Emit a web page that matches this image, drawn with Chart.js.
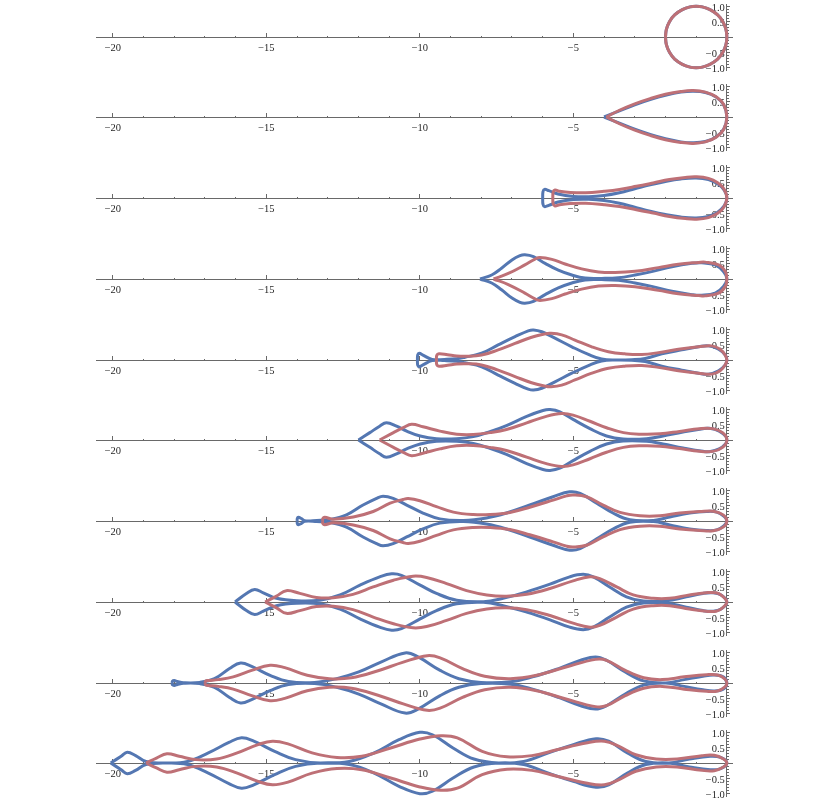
<!DOCTYPE html>
<html>
<head>
<meta charset="utf-8">
<script src="https://cdn.jsdelivr.net/npm/chart.js@4.4.1/dist/chart.umd.min.js"></script>
<style>
  html, body { margin: 0; padding: 0; background: #fff; }
  body { width: 830px; height: 801px; position: relative; overflow: hidden; }
  canvas { position: absolute; }
</style>
</head>
<body>
<script>
// Upper halves of the closed curves as [x, y], left end -> x = 0.
// Each curve is symmetric about the x axis, so the lower half is the mirror.
var blue1 = [[-2, 0], [-1.97, 0.25], [-1.87, 0.5], [-1.7, 0.72], [-1.45, 0.89], [-1.2, 0.98], [-1, 1], [-0.8, 0.98], [-0.55, 0.89], [-0.3, 0.72], [-0.13, 0.5], [-0.03, 0.25], [0, 0]];
var red1 = [[-2, 0], [-1.97, 0.25], [-1.87, 0.5], [-1.7, 0.72], [-1.45, 0.89], [-1.2, 0.98], [-1, 1], [-0.8, 0.98], [-0.55, 0.89], [-0.3, 0.72], [-0.13, 0.5], [-0.03, 0.25], [0, 0]];

var blue2 = [[-4.0, 0], [-3.5, 0.2], [-3, 0.4], [-2.5, 0.57], [-2, 0.71], [-1.5, 0.81], [-1.1, 0.84], [-0.7, 0.8], [-0.35, 0.65], [-0.1, 0.39], [0, 0]];
var red2 = [[-3.93, 0], [-3.5, 0.22], [-3, 0.43], [-2.5, 0.6], [-2, 0.74], [-1.5, 0.83], [-1.1, 0.86], [-0.7, 0.81], [-0.35, 0.66], [-0.1, 0.4], [0, 0]];

var blue3 = [[-6.0, 0], [-5.99, 0.2], [-5.94, 0.28], [-5.8, 0.24], [-5.5, 0.13], [-5.0, 0.05], [-4.5, 0.04], [-4.0, 0.08], [-3.5, 0.17], [-3.0, 0.3], [-2.5, 0.43], [-2.0, 0.54], [-1.5, 0.62], [-1.0, 0.65], [-0.6, 0.6], [-0.3, 0.46], [-0.08, 0.25], [0, 0]];
var red3 = [[-5.67, 0], [-5.66, 0.18], [-5.6, 0.26], [-5.45, 0.22], [-5.1, 0.18], [-4.6, 0.17], [-4.0, 0.22], [-3.5, 0.28], [-2.95, 0.38], [-2.4, 0.49], [-1.87, 0.6], [-1.35, 0.67], [-1.0, 0.69], [-0.6, 0.64], [-0.3, 0.5], [-0.1, 0.3], [0, 0]];

var blue4 = [[-8.04, 0], [-7.66, 0.13], [-7.34, 0.35], [-7.0, 0.62], [-6.74, 0.76], [-6.58, 0.79], [-6.3, 0.73], [-5.92, 0.51], [-5.49, 0.29], [-5.05, 0.13], [-4.62, 0.03], [-4.08, 0.02], [-3.53, 0.04], [-2.99, 0.13], [-2.45, 0.24], [-1.79, 0.4], [-1.14, 0.51], [-0.82, 0.53], [-0.38, 0.46], [-0.11, 0.24], [0, 0]];
var red4 = [[-7.6, 0], [-7.12, 0.18], [-6.58, 0.46], [-6.25, 0.65], [-6.09, 0.7], [-5.7, 0.64], [-5.27, 0.49], [-4.73, 0.33], [-4.18, 0.23], [-3.64, 0.21], [-2.99, 0.25], [-2.23, 0.37], [-1.58, 0.48], [-0.92, 0.54], [-0.71, 0.55], [-0.27, 0.46], [-0.05, 0.24], [0, 0]];

var blue5 = [[-10.08, 0], [-10.07, 0.17], [-10.02, 0.22], [-9.9, 0.16], [-9.6, 0.02], [-9.2, 0.02], [-8.8, 0.04], [-8.53, 0.09], [-7.99, 0.22], [-7.45, 0.49], [-6.9, 0.76], [-6.47, 0.95], [-6.3, 0.98], [-6.03, 0.92], [-5.6, 0.71], [-5.05, 0.43], [-4.51, 0.18], [-4.08, 0.03], [-3.6, 0.0], [-3.1, 0.01], [-2.66, 0.05], [-2.12, 0.2], [-1.47, 0.33], [-0.92, 0.43], [-0.6, 0.46], [-0.27, 0.35], [-0.05, 0.16], [0, 0]];
var red5 = [[-9.46, 0], [-9.45, 0.15], [-9.38, 0.2], [-9.1, 0.17], [-8.8, 0.13], [-8.5, 0.12], [-7.99, 0.16], [-7.45, 0.33], [-6.9, 0.54], [-6.36, 0.74], [-5.92, 0.85], [-5.76, 0.87], [-5.38, 0.82], [-4.95, 0.65], [-4.4, 0.43], [-3.86, 0.27], [-3.32, 0.2], [-2.77, 0.18], [-2.23, 0.24], [-1.58, 0.35], [-0.92, 0.43], [-0.49, 0.46], [-0.22, 0.35], [-0.05, 0.15], [0, 0]];

var blue6 = [[-12.0, 0], [-11.63, 0.24], [-11.31, 0.45], [-11.09, 0.56], [-10.76, 0.45], [-10.43, 0.29], [-9.99, 0.13], [-9.46, 0.04], [-8.8, 0.04], [-8.26, 0.11], [-7.72, 0.27], [-7.18, 0.47], [-6.52, 0.77], [-5.99, 0.96], [-5.76, 0.99], [-5.44, 0.92], [-5.01, 0.67], [-4.46, 0.37], [-3.92, 0.13], [-3.38, 0.03], [-2.61, 0.04], [-2.08, 0.13], [-1.43, 0.26], [-0.78, 0.37], [-0.57, 0.38], [-0.25, 0.29], [-0.03, 0.11], [0, 0]];
var red6 = [[-11.31, 0], [-10.86, 0.24], [-10.54, 0.4], [-10.27, 0.51], [-9.9, 0.43], [-9.35, 0.29], [-8.8, 0.19], [-8.26, 0.18], [-7.72, 0.24], [-7.18, 0.34], [-6.52, 0.56], [-5.88, 0.77], [-5.38, 0.86], [-5.01, 0.81], [-4.46, 0.61], [-3.92, 0.4], [-3.37, 0.24], [-2.83, 0.19], [-2.18, 0.2], [-1.54, 0.28], [-0.89, 0.37], [-0.46, 0.37], [-0.14, 0.24], [0, 0]];

var blue7 = [[-14.0, 0], [-13.99, 0.09], [-13.96, 0.12], [-13.86, 0.08], [-13.75, 0.01], [-13.36, 0.02], [-12.93, 0.05], [-12.39, 0.2], [-11.85, 0.52], [-11.41, 0.74], [-11.2, 0.81], [-10.87, 0.74], [-10.43, 0.52], [-9.9, 0.26], [-9.35, 0.07], [-8.58, 0.02], [-7.83, 0.1], [-7.18, 0.26], [-6.42, 0.52], [-5.66, 0.79], [-5.12, 0.95], [-4.78, 0.9], [-4.24, 0.58], [-3.71, 0.26], [-3.16, 0.04], [-2.39, 0.02], [-1.86, 0.13], [-1.21, 0.26], [-0.67, 0.31], [-0.33, 0.29], [-0.09, 0.15], [0, 0]];
var red7 = [[-13.17, 0], [-13.16, 0.08], [-13.1, 0.12], [-12.82, 0.06], [-12.17, 0.13], [-11.52, 0.31], [-10.97, 0.58], [-10.55, 0.7], [-10.38, 0.73], [-10.0, 0.66], [-9.46, 0.47], [-8.91, 0.29], [-8.26, 0.21], [-7.72, 0.21], [-7.07, 0.28], [-6.42, 0.45], [-5.66, 0.68], [-5.22, 0.82], [-5.01, 0.85], [-4.57, 0.79], [-4.03, 0.52], [-3.48, 0.28], [-2.83, 0.17], [-2.18, 0.17], [-1.53, 0.26], [-0.88, 0.31], [-0.44, 0.32], [-0.12, 0.2], [0, 0]];

var blue8 = [[-16.02, 0], [-15.65, 0.28], [-15.38, 0.41], [-15.1, 0.3], [-14.67, 0.12], [-14.01, 0.04], [-13.26, 0.06], [-12.6, 0.23], [-11.95, 0.55], [-11.31, 0.82], [-10.92, 0.92], [-10.6, 0.87], [-9.99, 0.55], [-9.46, 0.28], [-8.8, 0.06], [-7.93, 0.01], [-7.29, 0.12], [-6.52, 0.33], [-5.76, 0.58], [-5.12, 0.82], [-4.68, 0.9], [-4.35, 0.82], [-3.82, 0.49], [-3.27, 0.17], [-2.72, 0.03], [-1.97, 0.04], [-1.32, 0.17], [-0.78, 0.28], [-0.46, 0.3], [-0.19, 0.23], [0, 0]];
var red8 = [[-15.04, 0], [-14.67, 0.19], [-14.35, 0.37], [-13.91, 0.28], [-13.37, 0.15], [-12.82, 0.14], [-12.18, 0.25], [-11.52, 0.49], [-10.86, 0.71], [-10.22, 0.84], [-9.78, 0.8], [-9.13, 0.6], [-8.48, 0.37], [-7.82, 0.23], [-7.18, 0.19], [-6.52, 0.25], [-5.76, 0.44], [-5.01, 0.69], [-4.46, 0.82], [-4.14, 0.76], [-3.59, 0.49], [-3.05, 0.23], [-2.4, 0.12], [-1.86, 0.12], [-1.22, 0.23], [-0.68, 0.3], [-0.35, 0.3], [-0.14, 0.19], [0, 0]];

var blue9 = [[-18.07, 0], [-18.06, 0.06], [-18.0, 0.08], [-17.9, 0.05], [-17.7, 0.01], [-17.17, 0.02], [-16.69, 0.14], [-16.2, 0.47], [-15.84, 0.65], [-15.48, 0.54], [-14.88, 0.25], [-14.28, 0.05], [-13.43, 0.02], [-12.71, 0.14], [-11.99, 0.36], [-11.27, 0.68], [-10.48, 0.98], [-10.06, 0.85], [-9.34, 0.41], [-8.73, 0.14], [-8.01, 0.02], [-7.05, 0.04], [-6.33, 0.2], [-5.48, 0.47], [-4.76, 0.74], [-4.28, 0.85], [-3.92, 0.74], [-3.31, 0.36], [-2.71, 0.07], [-1.99, 0.0], [-1.39, 0.11], [-0.78, 0.22], [-0.42, 0.26], [-0.12, 0.2], [0, 0]];
var red9 = [[-17.0, 0], [-16.98, 0.06], [-16.9, 0.08], [-16.57, 0.11], [-16.08, 0.2], [-15.48, 0.41], [-14.88, 0.58], [-14.4, 0.5], [-13.67, 0.25], [-12.95, 0.14], [-12.23, 0.17], [-11.39, 0.39], [-10.54, 0.68], [-9.76, 0.89], [-9.34, 0.82], [-8.61, 0.47], [-7.89, 0.22], [-7.05, 0.14], [-6.2, 0.25], [-5.24, 0.52], [-4.28, 0.77], [-3.92, 0.74], [-3.31, 0.41], [-2.71, 0.17], [-2.11, 0.11], [-1.39, 0.2], [-0.66, 0.27], [-0.3, 0.26], [-0.06, 0.13], [0, 0]];

var blue10 = [[-20.07, 0], [-19.73, 0.22], [-19.53, 0.35], [-19.26, 0.24], [-18.92, 0.05], [-18.24, 0.0], [-17.57, 0.05], [-16.89, 0.33], [-16.22, 0.67], [-15.81, 0.82], [-15.41, 0.71], [-14.73, 0.38], [-14.05, 0.11], [-13.24, 0.0], [-12.3, 0.05], [-11.49, 0.33], [-10.68, 0.76], [-10.0, 1.0], [-9.59, 0.92], [-8.92, 0.49], [-8.24, 0.13], [-7.43, 0.0], [-6.62, 0.05], [-5.81, 0.33], [-5.0, 0.6], [-4.26, 0.79], [-3.85, 0.71], [-3.24, 0.33], [-2.64, 0.05], [-1.89, 0.0], [-1.22, 0.13], [-0.54, 0.22], [-0.2, 0.18], [0, 0]];
var red10 = [[-18.92, 0], [-18.58, 0.16], [-18.24, 0.3], [-17.84, 0.22], [-17.3, 0.11], [-16.62, 0.13], [-15.95, 0.33], [-15.27, 0.6], [-14.8, 0.71], [-14.32, 0.63], [-13.51, 0.33], [-12.7, 0.18], [-11.89, 0.22], [-10.95, 0.49], [-10.0, 0.78], [-9.32, 0.89], [-8.78, 0.82], [-7.97, 0.38], [-7.16, 0.2], [-6.35, 0.24], [-5.54, 0.43], [-4.59, 0.65], [-3.99, 0.71], [-3.51, 0.54], [-2.97, 0.27], [-2.3, 0.13], [-1.62, 0.13], [-0.81, 0.24], [-0.41, 0.25], [-0.11, 0.13], [0, 0]];

// Tick positions
var xMajorTicks = [-20, -15, -10, -5, 0];
var xMinorTicks = [-20, -19, -18, -17, -16, -15, -14, -13, -12, -11, -10, -9, -8, -7, -6, -5, -4, -3, -2, -1, 0];
var yMajorTicks = [-1, -0.5, 0, 0.5, 1];
var yMinorTicks = [-1, -0.9, -0.8, -0.7, -0.6, -0.5, -0.4, -0.3, -0.2, -0.1, 0, 0.1, 0.2, 0.3, 0.4, 0.5, 0.6, 0.7, 0.8, 0.9, 1];

var panels = [
  [blue1, red1], [blue2, red2], [blue3, red3], [blue4, red4], [blue5, red5],
  [blue6, red6], [blue7, red7], [blue8, red8], [blue9, red9], [blue10, red10]
];

var BLUE = 'rgb(84, 119, 178)';
var RED = 'rgb(190, 112, 118)';
var AXIS = 'rgb(105, 105, 105)';
var LABEL = 'rgb(40, 40, 40)';
var FONT = { family: '"Liberation Serif", "DejaVu Serif", serif', size: 10.5 };

var X_MIN = -20.55, X_MAX = 0.2;   // 30.7 px per unit over 637 px
var Y_MAX = 1.075;                 // 66 px tall plot area -> same scale as x

// Walk the upper half left to right, then back along the mirrored lower half
function closedCurve(upper) {
  var pts = upper.map(function (p) { return { x: p[0], y: p[1] }; });
  for (var i = upper.length - 2; i >= 0; i--) {
    pts.push({ x: upper[i][0], y: -upper[i][1] });
  }
  return pts;
}

function minus(v, digits) {
  var s = Math.abs(v).toFixed(digits);
  return v < 0 ? '\u2212' + s : s;
}

// Axes should not take space from the plot area
function noSpace(scale) {
  scale.width = scale.isHorizontal() ? scale.width : 0;
  scale.height = scale.isHorizontal() ? 0 : scale.height;
  scale.paddingLeft = scale.paddingRight = scale.paddingTop = scale.paddingBottom = 0;
}

function setTicks(list) {
  return function (scale) {
    scale.ticks = list.map(function (v) { return { value: v }; });
  };
}

function makeChart(canvas, blueUpper, redUpper) {
  return new Chart(canvas.getContext('2d'), {
    type: 'scatter',
    data: {
      datasets: [
        { data: closedCurve(redUpper), borderColor: RED, borderWidth: 3, showLine: true, pointRadius: 0, tension: 0.4, fill: false },
        { data: closedCurve(blueUpper), borderColor: BLUE, borderWidth: 3, showLine: true, pointRadius: 0, tension: 0.4, fill: false }
      ]
    },
    options: {
      responsive: false,
      animation: false,
      events: [],
      layout: { padding: { top: 6, bottom: 6, left: 0, right: 0 } },
      plugins: { legend: { display: false }, tooltip: { enabled: false } },
      scales: {
        x: {
          type: 'linear', axis: 'x', min: X_MIN, max: X_MAX, position: { y: 0 },
          afterFit: noSpace, afterBuildTicks: setTicks(xMinorTicks),
          border: { display: true, color: AXIS, width: 1 },
          grid: { drawOnChartArea: false, drawTicks: true, tickLength: -2, color: AXIS },
          ticks: { display: false }
        },
        x2: {
          type: 'linear', axis: 'x', min: X_MIN, max: X_MAX, position: { y: 0 },
          afterFit: noSpace, afterBuildTicks: setTicks(xMajorTicks),
          border: { display: false },
          grid: { drawOnChartArea: false, drawTicks: true, tickLength: -4, color: AXIS },
          ticks: {
            display: true, autoSkip: false, maxRotation: 0, padding: 9,
            color: LABEL, font: FONT,
            callback: function (v) { return v === 0 ? '' : minus(v, 0); }
          }
        },
        y: {
          type: 'linear', axis: 'y', min: -Y_MAX, max: Y_MAX, position: { x: 0 },
          afterFit: noSpace, afterBuildTicks: setTicks(yMajorTicks),
          border: { display: true, color: AXIS, width: 1 },
          grid: { drawOnChartArea: false, drawTicks: true, tickLength: -4, color: AXIS },
          ticks: {
            display: true, autoSkip: false, color: LABEL, font: FONT, labelOffset: 1.5,
            callback: function (v) { return v === 0 ? '' : minus(v, 1) + '\u2009'; }
          }
        },
        y2: {
          type: 'linear', axis: 'y', min: -Y_MAX, max: Y_MAX, position: { x: 0 },
          afterFit: noSpace, afterBuildTicks: setTicks(yMinorTicks),
          border: { display: false },
          grid: { drawOnChartArea: false, drawTicks: true, tickLength: -2, color: AXIS },
          ticks: { display: false }
        }
      }
    }
  });
}

// One chart per panel, stacked; axis of panel k sits at y = 36.7 + 80.73 k
panels.forEach(function (pair, k) {
  var c = document.createElement('canvas');
  c.width = 637;
  c.height = 78;
  c.style.left = '96px';
  c.style.top = Math.round(36.7 + 80.73 * k - 39) + 'px';
  document.body.appendChild(c);
  makeChart(c, pair[0], pair[1]);
});
</script>
</body>
</html>
